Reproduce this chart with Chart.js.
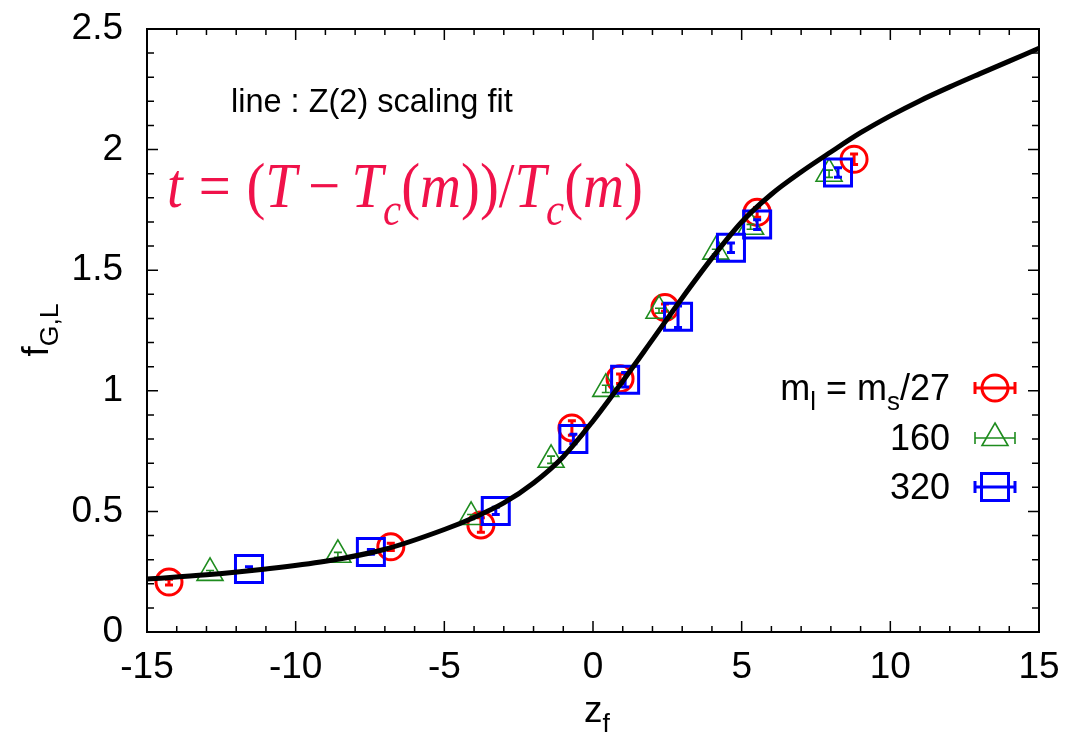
<!DOCTYPE html>
<html>
<head>
<meta charset="utf-8">
<script src="https://cdn.jsdelivr.net/npm/chart.js@4.4.1/dist/chart.umd.min.js"></script>
<style>
  html,body{margin:0;padding:0;background:#fff;}
  #wrap{width:1071px;height:748px;}
</style>
</head>
<body>
<div id="wrap"><canvas id="c" width="1071" height="748"></canvas></div>
<script>
// ---------- data ----------
const curveX = [-15,-13,-11,-9,-7,-5,-4,-3,-2,-1,0,1,2,3,4,5,6,7,8,9,10,11,12,13,14,15];
const curveY = [0.220,0.237,0.261,0.293,0.343,0.425,0.475,0.535,0.618,0.727,0.875,1.040,1.212,1.385,1.550,1.700,1.815,1.907,1.990,2.070,2.140,2.203,2.260,2.314,2.367,2.420];

const redX   = [-14.26,-6.80,-3.77,-0.71,0.91,2.42,5.52,8.78];
const redY   = [0.207,0.353,0.444,0.846,1.050,1.345,1.740,1.960];
const redErr = [0.012,0.015,0.030,0.030,0.020,0.015,0.020,0.022];

const greenX   = [-12.88,-8.58,-4.10,-1.41,0.43,2.22,4.13,5.30,7.94];
const greenY   = [0.245,0.320,0.477,0.714,1.008,1.332,1.577,1.680,1.900];
const greenErr = [0.010,0.010,0.010,0.015,0.015,0.010,0.010,0.010,0.015];

const blueX   = [-11.57,-7.47,-3.27,-0.66,1.08,2.86,4.64,5.52,8.24];
const blueY   = [0.261,0.332,0.502,0.800,1.046,1.307,1.593,1.689,1.905];
const blueErr = [0.010,0.010,0.015,0.020,0.030,0.045,0.020,0.020,0.020];

const xTickValues = [-15,-10,-5,0,5,10,15];
const xTickLabels = ["-15","-10","-5","0","5","10","15"];
const yTickValues = [0,0.5,1,1.5,2,2.5];
const yTickLabels = ["0","0.5","1","1.5","2","2.5"];

const legendLabels = ["m_s/27","160","320"];
const annotationText = "line : Z(2) scaling fit";

// ---------- helpers ----------
const SANS = "'Liberation Sans', Arial, Helvetica, sans-serif";
const SERIF = "'Liberation Serif', 'Times New Roman', serif";
const RED = '#ff0000', GREEN = '#1e8c1e', BLUE = '#0000ff';

function pts(xs, ys){ return xs.map((x,i)=>({x:x, y:ys[i]})); }

function richWidth(ctx, parts, size, family){
  let w = 0;
  for (const p of parts){
    const s = p.sub ? size*0.72 : size;
    ctx.font = (p.italic?'italic ':'') + s + 'px ' + (p.family||family);
    w += ctx.measureText(p.t).width + (p.dx||0)*size;
  }
  return w;
}
function drawRich(ctx, parts, x, y, size, family, align){
  const w = richWidth(ctx, parts, size, family);
  let cx = x;
  if (align === 'right') cx = x - w;
  else if (align === 'center') cx = x - w/2;
  ctx.textBaseline = 'alphabetic';
  ctx.textAlign = 'left';
  for (const p of parts){
    const s = p.sub ? size*0.72 : size;
    ctx.font = (p.italic?'italic ':'') + s + 'px ' + (p.family||family);
    const oy = p.sub ? size*0.28 : 0;
    ctx.fillText(p.t, cx, y + oy);
    cx += ctx.measureText(p.t).width + (p.dx||0)*size;
  }
}

function drawMarker(ctx, type, x, y, color){
  ctx.save();
  ctx.strokeStyle = color;
  if (type === 'circle'){
    ctx.lineWidth = 3;
    ctx.beginPath(); ctx.arc(x, y, 13, 0, Math.PI*2); ctx.stroke();
  } else if (type === 'triangle'){
    ctx.lineWidth = 1.6;
    const r = 15;
    ctx.beginPath();
    ctx.moveTo(x, y - r);
    ctx.lineTo(x + r*Math.sin(2*Math.PI/3), y - r*Math.cos(2*Math.PI/3));
    ctx.lineTo(x + r*Math.sin(4*Math.PI/3), y - r*Math.cos(4*Math.PI/3));
    ctx.closePath(); ctx.stroke();
  } else {
    ctx.lineWidth = 3;
    ctx.strokeRect(x - 13.5, y - 13.5, 27, 27);
  }
  ctx.restore();
}

// ---------- plugins ----------
const errorBarPlugin = {
  id: 'errbars',
  afterDatasetDraw(chart, args){
    const ds = chart.data.datasets[args.index];
    if (!ds.errors) return;
    const ctx = chart.ctx, xs = chart.scales.x, ys = chart.scales.y;
    ctx.save();
    ctx.strokeStyle = ds.borderColor;
    ctx.lineWidth = ds.errWidth;
    ds.data.forEach((p, i) => {
      const e = ds.errors[i];
      const px = xs.getPixelForValue(p.x);
      const y1 = ys.getPixelForValue(p.y - e), y2 = ys.getPixelForValue(p.y + e);
      ctx.beginPath();
      ctx.moveTo(px, y1); ctx.lineTo(px, y2);
      ctx.moveTo(px-4, y1); ctx.lineTo(px+4, y1);
      ctx.moveTo(px-4, y2); ctx.lineTo(px+4, y2);
      ctx.stroke();
    });
    ctx.restore();
  }
};

const framePlugin = {
  id: 'frame',
  afterDraw(chart){
    const ctx = chart.ctx, a = chart.chartArea;
    const xs = chart.scales.x, ys = chart.scales.y;
    ctx.save();
    ctx.strokeStyle = '#000';
    ctx.lineWidth = 1.5;
    ctx.beginPath();
    for (let v = -15; v <= 15; v++){
      const px = xs.getPixelForValue(v);
      const L = (v % 5 === 0) ? 11 : 6;
      ctx.moveTo(px, a.bottom); ctx.lineTo(px, a.bottom - L);
      ctx.moveTo(px, a.top); ctx.lineTo(px, a.top + L);
    }
    for (let k = 0; k <= 25; k++){
      const py = ys.getPixelForValue(k/10);
      const L = (k % 5 === 0) ? 11 : 7;
      ctx.moveTo(a.left, py); ctx.lineTo(a.left + L, py);
      ctx.moveTo(a.right, py); ctx.lineTo(a.right - L, py);
    }
    ctx.stroke();
    ctx.lineWidth = 2;
    ctx.strokeRect(a.left, a.top, a.right - a.left, a.bottom - a.top);
    ctx.restore();

    // axis titles
    ctx.save();
    ctx.fillStyle = '#000';
    drawRich(ctx, [{t:'z'},{t:'f', sub:true}], (a.left+a.right)/2 + 4, 722, 37, SANS, 'center');
    ctx.translate(48, 330);
    ctx.rotate(-Math.PI/2);
    drawRich(ctx, [{t:'f'},{t:'G,L', sub:true}], 0, 0, 37, SANS, 'center');
    ctx.restore();

    // annotation
    ctx.save();
    ctx.fillStyle = '#000';
    ctx.font = '32.5px ' + SANS;
    ctx.textAlign = 'left'; ctx.textBaseline = 'alphabetic';
    ctx.fillText(annotationText, 231, 112);
    ctx.restore();

    // formula
    ctx.save();
    ctx.fillStyle = '#f0124a';
    const fparts = [
      {t:'t', italic:true, dx:0.28}, {t:'=', dx:0.28}, {t:'('}, {t:'T', italic:true, dx:0.2},
      {t:'\u2212', dx:0.2}, {t:'T', italic:true}, {t:'c', italic:true, sub:true}, {t:'('}, {t:'m', italic:true},
      {t:'))/'}, {t:'T', italic:true}, {t:'c', italic:true, sub:true}, {t:'('}, {t:'m', italic:true}, {t:')'}
    ];
    const w50 = richWidth(ctx, fparts, 50, SERIF);
    const fs = 50 * 476 / w50;
    ctx.translate(167, 207);
    ctx.scale(1, 1.12);
    drawRich(ctx, fparts, 0, 0, fs, SERIF, 'left');
    ctx.restore();

    // legend
    ctx.save();
    ctx.fillStyle = '#000';
    const rows = [388, 438, 487];
    drawRich(ctx, [{t:'m'},{t:'l', sub:true},{t:' = m'},{t:'s', sub:true},{t:'/27'}], 950, rows[0]+12, 36, SANS, 'right');
    drawRich(ctx, [{t:legendLabels[1]}], 950, rows[1]+12, 36, SANS, 'right');
    drawRich(ctx, [{t:legendLabels[2]}], 950, rows[2]+12, 36, SANS, 'right');
    const types = ['circle','triangle','rect'], cols = [RED, GREEN, BLUE], lw = [3, 1.6, 3];
    rows.forEach((ry, i) => {
      ctx.save();
      ctx.strokeStyle = cols[i]; ctx.lineWidth = lw[i];
      ctx.beginPath();
      ctx.moveTo(975, ry); ctx.lineTo(1015, ry);
      ctx.moveTo(975, ry-6); ctx.lineTo(975, ry+6);
      ctx.moveTo(1015, ry-6); ctx.lineTo(1015, ry+6);
      ctx.stroke();
      ctx.restore();
      drawMarker(ctx, types[i], 995, ry, cols[i]);
    });
    ctx.restore();
  }
};

// ---------- chart ----------
const ctx = document.getElementById('c').getContext('2d');
new Chart(ctx, {
  type: 'scatter',
  data: {
    datasets: [
      { label: 'fit', data: pts(curveX, curveY), showLine: true, borderColor: '#000', borderWidth: 5,
        pointRadius: 0, fill: false, cubicInterpolationMode: 'monotone' },
      { label: '320', data: pts(blueX, blueY), errors: blueErr, errWidth: 3, pointStyle: 'rect', pointRadius: 19.1,
        borderColor: BLUE, backgroundColor: 'rgba(0,0,0,0)', borderWidth: 3, pointHoverRadius: 19.1 },
      { label: '160', data: pts(greenX, greenY), errors: greenErr, errWidth: 1.6, pointStyle: 'triangle', pointRadius: 15,
        borderColor: GREEN, backgroundColor: 'rgba(0,0,0,0)', borderWidth: 1.6, pointHoverRadius: 15 },
      { label: 'm_s/27', data: pts(redX, redY), errors: redErr, errWidth: 3, pointStyle: 'circle', pointRadius: 13,
        borderColor: RED, backgroundColor: 'rgba(0,0,0,0)', borderWidth: 3, pointHoverRadius: 13 }
    ]
  },
  options: {
    responsive: false,
    animation: false,
    events: [],
    layout: { padding: { left: 0, right: 32, top: 29, bottom: 0 } },
    plugins: { legend: { display: false }, tooltip: { enabled: false } },
    scales: {
      x: {
        type: 'linear', min: -15, max: 15,
        afterBuildTicks(s){ s.ticks = xTickValues.map(v => ({value: v})); },
        afterFit(s){ s.height = 116; s.paddingLeft = 0; s.paddingRight = 0; },
        ticks: { padding: 14, color: '#000', font: { size: 37, family: SANS },
                 callback: (v) => xTickLabels[xTickValues.indexOf(v)] },
        grid: { display: false, drawTicks: false }, border: { display: false }
      },
      y: {
        type: 'linear', min: 0, max: 2.5,
        afterBuildTicks(s){ s.ticks = yTickValues.map(v => ({value: v})); },
        afterFit(s){ s.width = 147; s.paddingTop = 0; s.paddingBottom = 0; },
        ticks: { padding: 24, color: '#000', font: { size: 37, family: SANS },
                 callback: (v) => yTickLabels[yTickValues.indexOf(v)] },
        grid: { display: false, drawTicks: false }, border: { display: false }
      }
    }
  },
  plugins: [errorBarPlugin, framePlugin]
});
</script>
</body>
</html>
